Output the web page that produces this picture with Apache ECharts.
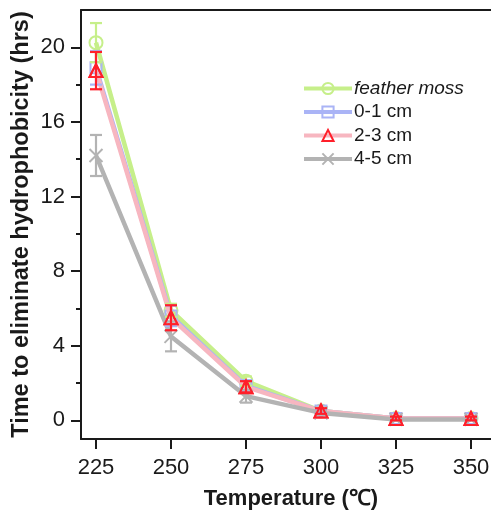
<!DOCTYPE html>
<html>
<head>
<meta charset="utf-8">
<script src="https://cdn.jsdelivr.net/npm/echarts@6/dist/echarts.min.js"></script>
<style>
  html, body { margin: 0; padding: 0; background: #fff; }
  #chart { width: 491px; height: 520px; }
</style>
</head>
<body>
<div id="chart"></div>
<script>
// Temperatures (°C)
const temps = [225, 250, 275, 300, 325, 350];

// Mean time to eliminate hydrophobicity (hrs) and error (±)
const featherMoss = [20.25, 5.9, 2.1, 0.5, 0.1, 0.1];
const featherMossErr = [1.05, 0.35, 0.25, 0.1, 0.05, 0.05];
const cm01 = [18.9, 5.6, 1.85, 0.5, 0.1, 0.1];
const cm01Err = [0.9, 0.55, 0.3, 0.1, 0.05, 0.05];
const cm23 = [18.75, 5.5, 1.8, 0.5, 0.1, 0.1];
const cm23Err = [1.0, 0.67, 0.3, 0.15, 0.1, 0.1];
const cm45 = [14.2, 4.5, 1.3, 0.4, 0.05, 0.05];
const cm45Err = [1.1, 0.8, 0.35, 0.1, 0.05, 0.05];

const yMajorTicks = [0, 4, 8, 12, 16, 20];
const yMinorTicks = [2, 6, 10, 14, 18];
const xTicks = [225, 250, 275, 300, 325, 350];

const FONT = '"Liberation Sans", Arial, sans-serif';
const AXIS_COLOR = '#1a1a1a';

const green = '#c6ef8a';
const blue = '#aab4f6';
const pink = '#f7b6c0';
const red = '#ff1f2a';
const gray = '#b3b3b3';

const xSymbol = 'path://M0 0L10 10M10 0L0 10';

function pairs(vals) { return temps.map((t, i) => [t, vals[i]]); }
function errData(vals, errs) { return temps.map((t, i) => [t, vals[i] - errs[i], vals[i] + errs[i]]); }

function errorSeries(name, vals, errs, color, z) {
  return {
    type: 'custom',
    name: name,
    z: z,
    silent: true,
    data: errData(vals, errs),
    renderItem: function (params, api) {
      const x = api.value(0);
      const lo = api.coord([x, api.value(1)]);
      const hi = api.coord([x, api.value(2)]);
      const half = 6;
      const style = { stroke: color, lineWidth: 2.2 };
      return {
        type: 'group',
        children: [
          { type: 'line', shape: { x1: lo[0], y1: lo[1], x2: hi[0], y2: hi[1] }, style: style },
          { type: 'line', shape: { x1: lo[0] - half, y1: lo[1], x2: lo[0] + half, y2: lo[1] }, style: style },
          { type: 'line', shape: { x1: hi[0] - half, y1: hi[1], x2: hi[0] + half, y2: hi[1] }, style: style }
        ]
      };
    }
  };
}

function lineSeries(name, vals, color, markColor, symbol, size, z) {
  return {
    type: 'line',
    name: name,
    z: z,
    data: pairs(vals),
    symbol: symbol,
    symbolSize: size,
    showAllSymbol: true,
    lineStyle: { color: color, width: 4.5 },
    itemStyle: { color: symbol === xSymbol ? markColor : 'rgba(255,255,255,0)', borderColor: markColor, borderWidth: 2 },
    emphasis: { disabled: true }
  };
}

const chart = echarts.init(document.getElementById('chart'), null, { renderer: 'canvas' });

chart.setOption({
  animation: false,
  backgroundColor: '#ffffff',
  grid: { left: 81, top: 10, right: -10, bottom: 81, outerBoundsMode: 'none', containLabel: false },
  legend: {
    orient: 'vertical',
    left: 297,
    top: 74,
    itemWidth: 48,
    itemHeight: 14,
    itemGap: 4.5,
    lineStyle: { width: 4 },
    textStyle: { fontFamily: FONT, fontSize: 19, color: '#1a1a1a', padding: [0, 0, 0, -3], lineHeight: 19 },
    data: [
      { name: 'feather moss', textStyle: { fontStyle: 'italic' } },
      { name: '0-1 cm' },
      { name: '2-3 cm' },
      { name: '4-5 cm' }
    ]
  },
  xAxis: [
    {
      type: 'value',
      min: 220,
      max: 360,
      position: 'bottom',
      name: 'Temperature (℃)',
      nameLocation: 'middle',
      nameGap: 49,
      nameMoveOverlap: false,
      nameTextStyle: { fontFamily: FONT, fontSize: 22, fontWeight: 'bold', color: '#1a1a1a' },
      axisLine: { show: true, onZero: false, lineStyle: { color: AXIS_COLOR, width: 2 } },
      axisTick: { show: true, inside: false, length: 10, customValues: xTicks, lineStyle: { color: AXIS_COLOR, width: 2 } },
      axisLabel: { show: true, customValues: xTicks, margin: 18, fontFamily: FONT, fontSize: 22, color: '#1a1a1a' },
      splitLine: { show: false }
    },
    {
      type: 'value',
      min: 220,
      max: 360,
      position: 'top',
      axisLine: { show: true, onZero: false, lineStyle: { color: AXIS_COLOR, width: 2 } },
      axisTick: { show: false },
      axisLabel: { show: false },
      splitLine: { show: false }
    }
  ],
  yAxis: [
    {
      type: 'value',
      min: -1,
      max: 22,
      position: 'left',
      name: 'Time to eliminate hydrophobicity (hrs)',
      nameLocation: 'middle',
      nameGap: 47,
      nameMoveOverlap: false,
      nameTextStyle: { fontFamily: FONT, fontSize: 23.5, fontWeight: 'bold', color: '#1a1a1a' },
      axisLine: { show: true, onZero: false, lineStyle: { color: AXIS_COLOR, width: 2 } },
      axisTick: { show: true, inside: false, length: 10, customValues: yMajorTicks, lineStyle: { color: AXIS_COLOR, width: 2 } },
      axisLabel: { show: true, customValues: yMajorTicks, margin: 16, fontFamily: FONT, fontSize: 22, color: '#1a1a1a' },
      splitLine: { show: false }
    },
    {
      type: 'value',
      min: -1,
      max: 22,
      position: 'left',
      axisLine: { show: false },
      axisTick: { show: true, inside: false, length: 5, customValues: yMinorTicks, lineStyle: { color: AXIS_COLOR, width: 2 } },
      axisLabel: { show: false },
      splitLine: { show: false }
    }
  ],
  series: [
    lineSeries('feather moss', featherMoss, green, green, 'circle', 13, 2),
    lineSeries('0-1 cm', cm01, blue, blue, 'rect', 11, 3),
    lineSeries('2-3 cm', cm23, pink, red, 'triangle', 13, 4),
    lineSeries('4-5 cm', cm45, gray, gray, xSymbol, 13, 5),
    errorSeries('feather moss', featherMoss, featherMossErr, green, 6),
    errorSeries('0-1 cm', cm01, cm01Err, blue, 6),
    errorSeries('4-5 cm', cm45, cm45Err, gray, 6),
    errorSeries('2-3 cm', cm23, cm23Err, red, 7),
    {
      type: 'scatter',
      name: '2-3 cm',
      z: 8,
      silent: true,
      data: pairs(cm23),
      symbol: 'triangle',
      symbolSize: 13,
      itemStyle: { color: 'rgba(255,255,255,0)', borderColor: red, borderWidth: 2, opacity: 1 }
    }
  ]
});
</script>
</body>
</html>
